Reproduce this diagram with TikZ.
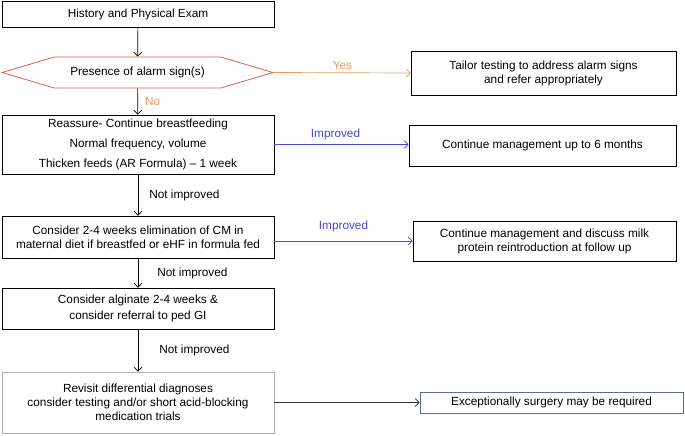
\documentclass[tikz,border=0pt]{standalone}
\usepackage{fontspec}
\setmainfont{Liberation Sans}
\usepackage{tikz}
\usetikzlibrary{calc, positioning, arrows.meta, shapes.symbols}
\definecolor{alarmred}{RGB}{226,90,90}
\definecolor{yesorange}{RGB}{236,150,90}
\definecolor{impblue}{RGB}{70,70,215}
\definecolor{boxgray}{RGB}{175,175,175}
\definecolor{steel}{RGB}{85,110,150}
\tikzstyle{stepbox}=[draw, line width=0.8pt, align=center, inner sep=2pt, font=\fontsize{11.8}{14}\selectfont]
\tikzstyle{flow}=[->, line width=0.7pt]
\tikzstyle{lbl}=[font=\fontsize{11.8}{14}\selectfont, inner sep=1pt]
\tikzset{>={Straight Barb[length=4pt,width=8pt]}}

\begin{document}
\begin{tikzpicture}[x=1pt, y=-1pt]
\useasboundingbox (0,0) rectangle (685,436);
% the left column
\node[stepbox, minimum width=272, minimum height=26] (hist) at (138,14) {History and Physical Exam};
\node[stepbox, draw=alarmred, shape=signal, signal to=west and east, signal pointer angle=33, minimum width=271, minimum height=31] (alarm) at (137.5,72.5) {Presence of alarm sign(s)};
\node[stepbox, minimum width=272, minimum height=59] (reassure) at (138,144.5) {Reassure- Continue breastfeeding\\[6pt] Normal frequency, volume\\[6pt] Thicken feeds (AR Formula) -- 1 week};
\node[stepbox, minimum width=272, minimum height=42] (elim) at (138,237) {Consider 2-4 weeks elimination of CM in\\ maternal diet if breastfed or eHF in formula fed};
\node[stepbox, minimum width=272, minimum height=41] (alginate) at (138,308.5) {Consider alginate 2-4 weeks \&\\[2pt] consider referral to ped GI};
\node[stepbox, draw=boxgray, minimum width=272, minimum height=61] (revisit) at (138,402.5) {Revisit differential diagnoses\\ consider testing and/or short acid-blocking\\ medication trials};
% the right column
\node[stepbox, minimum width=265, minimum height=44] (tailor) at (543.5,73) {Tailor testing to address alarm signs\\ and refer appropriately};
\node[stepbox, minimum width=267, minimum height=41] (cont6) at (542.5,145.5) {Continue management up to 6 months};
\node[stepbox, minimum width=263, minimum height=40] (milk) at (544.5,241) {Continue management and discuss milk\\ protein reintroduction at follow up};
\node[stepbox, draw=steel, minimum width=263, minimum height=21] (surgery) at (551.5,402.5) {Exceptionally surgery may be required};
% the downward arrows
\draw[flow] (hist) -- (alarm);
\draw[flow] (alarm) -- node[lbl, right=6pt, text=yesorange] {No} (reassure);
\draw[flow] (reassure) -- node[lbl, right=10pt] {Not improved} (elim);
\draw[flow] (elim) -- node[lbl, right=18pt] {Not improved} (alginate);
\draw[flow] (alginate) -- node[lbl, right=20pt] {Not improved} (revisit);
% the sideways arrows
\draw[flow, yesorange] (alarm.east) -- node[lbl, above=2pt] {Yes} (tailor.west);
\draw[flow, impblue] (reassure.east) -- node[lbl, above=3pt, xshift=-6pt] {Improved} (reassure.east -| cont6.west);
\draw[flow, impblue] (elim.east |- milk.west) -- node[lbl, above=8pt] {Improved} (milk.west);
\draw[flow, black!80] (revisit.east) -- (surgery.west);
\end{tikzpicture}
\end{document}
